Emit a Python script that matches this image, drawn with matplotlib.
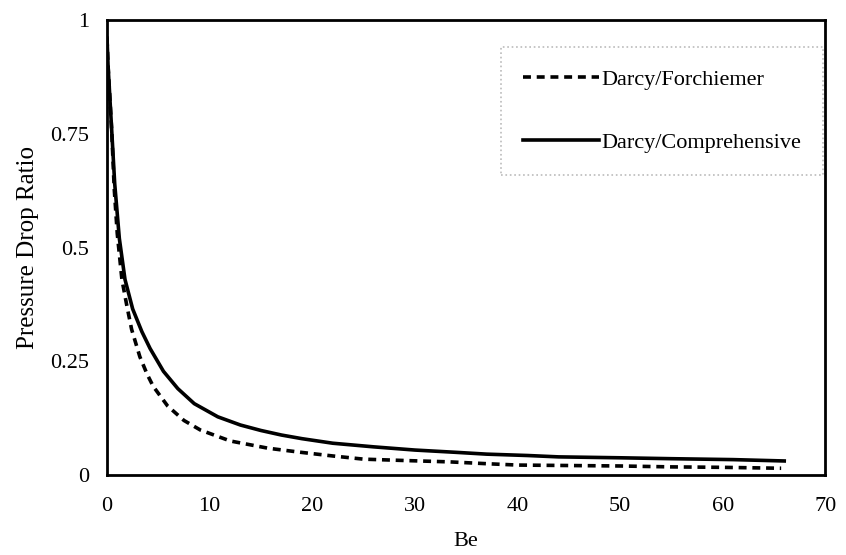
import numpy as np
import matplotlib
matplotlib.use('Agg')
import matplotlib.pyplot as plt

plt.rcParams['font.family'] = ['Liberation Serif', 'DejaVu Serif']

# Darcy/Comprehensive (solid)
be_comp = [0, 0.1, 0.45, 0.75, 1.2, 1.75, 2.5, 3.4, 4.2, 5.5, 6.9, 8.5, 10.8, 13, 15,
           17, 19, 22, 26, 30, 34, 37, 41, 44, 50, 55, 61, 66]
ratio_comp = [0.96, 0.90, 0.76, 0.64, 0.52, 0.43, 0.365, 0.315, 0.278, 0.228, 0.19,
              0.157, 0.128, 0.11, 0.098, 0.088, 0.08, 0.07, 0.062, 0.055, 0.05,
              0.046, 0.043, 0.040, 0.038, 0.036, 0.034, 0.031]

# Darcy/Forchiemer (dashed)
be_forch = [0, 0.1, 0.45, 0.7, 1.0, 1.45, 1.95, 2.4, 3.2, 3.9, 4.5, 5.9, 7.5, 9.1, 12,
            15.7, 18.9, 22, 25, 29, 33.4, 37, 40, 45, 50, 55, 60, 65.7]
ratio_forch = [0.96, 0.90, 0.76, 0.63, 0.53, 0.43, 0.37, 0.32, 0.26, 0.222, 0.195,
               0.152, 0.12, 0.099, 0.075, 0.059, 0.05, 0.042, 0.035, 0.032, 0.029,
               0.025, 0.022, 0.021, 0.02, 0.018, 0.017, 0.015]

xticks = [0, 10, 20, 30, 40, 50, 60, 70]
yticks = [0, 0.25, 0.5, 0.75, 1]
ytick_labels = ['0', '0.25', '0.5', '0.75', '1']

fig = plt.figure(figsize=(8.46, 5.55), dpi=100)
ax = fig.add_axes([0.1265, 0.144, 0.849, 0.82])

ax.plot(be_forch, ratio_forch, color='black', lw=2.6, ls=(0, (2.2, 1.6)),
        label='Darcy/Forchiemer')
ax.plot(be_comp, ratio_comp, color='black', lw=2.6, label='Darcy/Comprehensive')

ax.set_xlim(0, 70)
ax.set_ylim(0, 1)
ax.set_xticks(xticks)
ax.set_yticks(yticks)
ax.set_yticklabels(ytick_labels)
ax.tick_params(length=0, labelsize=16)
ax.tick_params(axis='x', pad=16)
ax.tick_params(axis='y', pad=13)
for s in ax.spines.values():
    s.set_linewidth(2)

ax.set_xlabel('Be', fontsize=16, labelpad=11)
ax.set_ylabel('Pressure Drop Ratio', fontsize=18, labelpad=8)

leg = ax.legend(loc='upper right', bbox_to_anchor=(1.0, 0.945), fontsize=16,
                handlelength=3.4, handletextpad=0.1, labelspacing=1.9,
                borderpad=1.0, borderaxespad=0.1, fancybox=False, framealpha=1)
leg.get_frame().set_edgecolor('#bbbbbb')
leg.get_frame().set_linestyle(':')
leg.get_frame().set_linewidth(1.2)

fig.savefig('out.png', dpi=100)
